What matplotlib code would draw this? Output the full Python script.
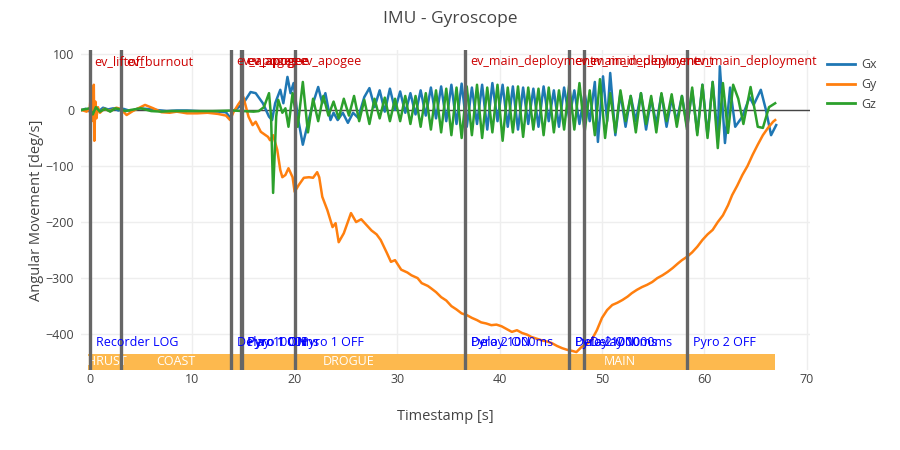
import matplotlib
matplotlib.use("Agg")
import matplotlib.pyplot as plt
from matplotlib.lines import Line2D
from matplotlib.patches import Rectangle

plt.rcParams['font.family'] = ['Open Sans', 'DejaVu Sans']

# ---------------- data ----------------
gx_t = [-0.8, -0.4, 0.0, 0.2, 0.4, 0.6, 0.9, 1.3, 1.8, 2.3, 2.8, 3.3, 4.0, 4.8, 5.5, 6.5, 7.5, 8.5,
        9.5, 10.5, 11.5, 12.5, 13.3, 13.7, 14.0, 14.4, 15.0, 15.7, 16.2, 16.9, 17.5, 17.8, 18.1, 18.6,
        18.9, 19.3, 19.6, 19.9, 20.3, 20.8, 21.3, 21.8, 22.3, 22.7, 23.0, 23.5, 23.8, 24.2, 24.7, 25.2,
        25.7, 26.2, 26.8, 27.3, 27.8, 28.3, 28.8, 29.3, 29.8, 30.3, 30.8, 31.3, 31.8, 32.3, 32.8, 33.3,
        33.8, 34.3, 34.8, 35.3, 35.8, 36.3, 36.8, 37.3, 37.8, 38.3, 38.8, 39.3, 39.8, 40.3, 40.8, 41.3,
        41.8, 42.3, 42.8, 43.3, 43.8, 44.3, 44.8, 45.3, 45.8, 46.3, 46.8, 47.3, 47.8, 48.3, 48.8, 49.3,
        49.6, 50.1, 50.5, 50.8, 51.3, 51.8, 52.3, 52.8, 53.3, 53.8, 54.3, 54.8, 55.3, 55.8, 56.3, 56.8,
        57.3, 57.8, 58.3, 58.8, 59.3, 59.8, 60.3, 60.8, 61.3, 61.5, 62.0, 62.5, 63.0, 63.7, 64.4, 64.8,
        65.5, 66.0, 66.5, 67.0]
gx_v = [0, 2, -3, 8, -10, 6, -2, 4, 1, 3, -1, 2, -2, 3, 2, 0, -2, -1,
        -1, -2, -3, -3, -4, -14, -2, 3, 12, 32, 30, 12, -12, -18, 12, 36,
        12, 59, 30, 48, -12, -62, -23, 12, 41, 12, 30, -18, -5, -18, -5, -23,
        -5, -14, 23, 39, 5, 35, -3, 38, 0, 33, -5, 30, -8, 35, -10, 40,
        -15, 42, -20, 45, -25, 47, -30, 40, -25, 45, -35, 48, -20, 45, -30, 42,
        -35, 40, -25, 38, -30, 42, -20, 35, -30, 40, -15, 35, -25, 30, -20, 50,
        -57, 60, -20, 66, -45, 30, -30, 25, -20, 30, -35, 20, -25, 28, -30, 20,
        -20, 25, -30, 35, -40, 45, -45, 50, -50, 78, -59, 40, -30, -12, 23, 9,
        36, 0, -45, -27]

gy_t = [-0.8, -0.3, 0.0, 0.1, 0.2, 0.3, 0.4, 0.45, 0.55, 0.65, 0.8, 1.0, 1.4, 2.0, 2.6, 3.0, 3.6,
        4.2, 5.4, 6.2, 7.0, 7.8, 8.5, 9.5, 10.5, 11.5, 12.5, 13.3, 13.7, 14.0, 14.5, 15.0, 15.5,
        15.9, 16.2, 16.7, 17.4, 17.6, 17.9, 18.3, 18.6, 18.8, 19.1, 19.4, 19.8, 20.0, 20.4, 20.9,
        21.4, 21.8, 22.2, 22.4, 22.7, 23.2, 23.7, 24.0, 24.3, 24.8, 25.5, 26.0, 26.5, 27.0, 27.5,
        28.0, 28.4, 29.0, 29.4, 29.8, 30.4, 31.0, 31.4, 32.0, 32.4, 33.0, 33.3, 33.8, 34.3, 34.8,
        35.3, 35.8, 36.3, 36.8, 37.3, 37.8, 38.2, 38.7, 39.2, 39.7, 40.2, 40.7, 41.2, 41.7, 42.2,
        42.7, 43.1, 43.6, 44.1, 44.6, 45.1, 45.6, 46.1, 46.6, 47.1, 47.5, 48.0, 48.5, 49.0, 49.5,
        50.0, 50.5, 51.0, 51.5, 52.0, 52.5, 52.9, 53.4, 53.9, 54.4, 54.9, 55.4, 55.9, 56.4, 56.9,
        57.4, 57.8, 58.3, 58.8, 59.3, 59.8, 60.3, 60.8, 61.3, 61.8, 62.3, 62.7, 63.2, 63.7, 64.2,
        64.7, 65.2, 65.7, 66.2, 66.7, 66.9]
gy_v = [0, -3, 2, 25, -20, 10, 45, -55, 15, -15, 5, -5, 2, -2, 4, 2, -9,
        -2, 9, 3, -4, -5, -3, -6, -6, -5, -7, -10, -18, -5, 10, 23, -12,
        -27, -21, -39, -48, -54, -45, -71, -107, -120, -116, -104, -120, -146, -134, -121,
        -120, -121, -111, -120, -155, -179, -209, -202, -236, -220, -184, -200, -195, -205, -215,
        -222, -232, -255, -271, -268, -285, -290, -295, -300, -309, -314, -318, -325, -334, -340,
        -350, -356, -363, -366, -371, -375, -379, -381, -384, -383, -386, -391, -396, -393, -398,
        -401, -405, -408, -411, -413, -416, -421, -425, -428, -430, -432, -423, -418, -410, -393,
        -371, -357, -348, -344, -339, -333, -327, -321, -316, -312, -307, -300, -295, -289, -282,
        -274, -268, -262, -254, -244, -232, -222, -214, -200, -188, -170, -152, -135, -116, -100,
        -80, -62, -45, -32, -21, -18]

gz_t = [-0.8, 0.0, 0.3, 0.6, 1.0, 1.5, 2.0, 2.5, 3.0, 3.5, 4.0, 5.0, 6.0, 7.0, 8.0, 10.0, 12.0,
        14.0, 15.0, 16.0, 16.5, 17.0, 17.5, 17.7, 17.9, 18.2, 18.4, 18.8, 19.1, 19.4, 19.8, 20.3,
        20.8, 21.3, 21.8, 22.3, 22.8, 23.3, 23.8, 24.3, 24.8, 25.3, 25.8, 26.3, 26.8, 27.3, 27.8,
        28.3, 28.8, 29.3, 29.8, 30.3, 30.8, 31.3, 31.8, 32.3, 32.8, 33.3, 33.8, 34.3, 34.8, 35.3,
        35.8, 36.3, 36.8, 37.3, 37.8, 38.3, 38.8, 39.3, 39.8, 40.3, 40.8, 41.3, 41.8, 42.3, 42.8,
        43.3, 43.8, 44.3, 44.8, 45.3, 45.8, 46.3, 46.8, 47.3, 47.8, 48.3, 48.8, 49.3, 49.8, 50.3,
        50.8, 51.3, 51.8, 52.3, 52.8, 53.3, 53.8, 54.3, 54.8, 55.3, 55.8, 56.3, 56.8, 57.3, 57.8,
        58.3, 58.8, 59.3, 59.8, 60.3, 60.8, 61.3, 61.8, 62.3, 62.8, 63.3, 63.8, 64.5, 65.2, 65.7,
        66.3, 66.9]
gz_v = [0, 3, -8, 5, -3, 2, -3, 3, 1, -2, 0, 3, -2, -3, -2, -2, -2,
        -1, -2, -3, -2, 5, 30, -12, -148, -12, 18, -5, 3, -30, 30, -30,
        50, -40, 20, -20, 25, -10, 15, -15, 20, -10, 25, -20, 18, -25, 20,
        -15, 22, -20, 20, -20, 25, -25, 25, -30, 30, -35, 35, -40, 38, -45,
        40, -50, 42, -45, 45, -50, 40, -40, 45, -55, 40, -40, 42, -48, 40,
        -35, 38, -45, 40, -40, 35, -35, 45, -35, 48, -40, 35, -45, 55, -50,
        30, -40, 35, -20, 25, -40, 30, -25, 25, -40, 30, -20, 28, -30, 25,
        -35, 40, -45, 45, -50, 50, -68, 48, -41, 45, 20, -25, 41, -30, -32,
        5, 12]

event_t = [0.0, 3.04, 13.82, 14.8, 14.9, 20.0, 36.67, 46.76, 48.24, 58.33]
event_top = ["ev_liftoff", "ev_burnout", "ev_apogee", "ev_apogee", "ev_apogee", "ev_apogee",
             "ev_main_deployment", "ev_main_deployment", "ev_main_deployment", "ev_main_deployment"]
cmd_t = [0.0, 13.82, 14.8, 14.9, 20.0, 36.67, 36.67, 46.76, 46.76, 48.24, 58.33]
cmd_label = ["Recorder LOG", "Delay 1000ms", "Pyro 1 ON", "Pyro 1 ON", "Pyro 1 OFF",
             "Delay 1000ms", "Pyro 2 ON", "Pyro 2 ON", "Delay 1000ms", "Delay 1000ms", "Pyro 2 OFF"]
phase_names = ["THRUST", "COAST", "DROGUE", "MAIN"]
phase_start = [-0.2, 3.04, 13.82, 36.67]
phase_end = [3.04, 13.82, 36.67, 66.9]

# ---------------- figure ----------------
fig = plt.figure(figsize=(9, 4.5), dpi=100)
ax = fig.add_axes([81 / 900, 80 / 450, 729 / 900, 320 / 450])
ax.set_xlim(-0.85, 70.3)
ax.set_ylim(-464, 107)

for s in ax.spines.values():
    s.set_visible(False)
ax.set_xticks([0, 10, 20, 30, 40, 50, 60, 70])
ax.set_yticks([-400, -300, -200, -100, 0, 100])
ax.grid(True, color='#eeeeee', linewidth=1)
ax.set_axisbelow(True)
ax.tick_params(length=0, labelsize=9, colors='#444444')
ax.tick_params(axis='x', pad=2)
ax.tick_params(axis='y', pad=5)
ax.axhline(0, color='#444444', linewidth=1, zorder=1)

cx, cy, cz = '#1f77b4', '#ff7f0e', '#2ca02c'
ax.plot(gx_t, gx_v, color=cx, lw=1.8, zorder=3)
ax.plot(gy_t, gy_v, color=cy, lw=1.8, zorder=3)
ax.plot(gz_t, gz_v, color=cz, lw=1.8, zorder=3)

# phase band
band_lo, band_hi = -464, -435
for n, a, b in zip(phase_names, phase_start, phase_end):
    r = Rectangle((a, band_lo), b - a, band_hi - band_lo, facecolor='#fdb94e', edgecolor='none', zorder=4)
    ax.add_patch(r)
    t = ax.text((a + b) / 2, (band_lo + band_hi) / 2, n, color='white', fontsize=9,
                ha='center', va='center', zorder=5)
    t.set_clip_path(r)

# event lines
for t in event_t:
    ax.axvline(t, color='#666666', lw=2.4, zorder=6)

for t, lab in zip(event_t, event_top):
    ax.annotate(lab, (t, 1), xycoords=('data', 'axes fraction'), xytext=(5, -12),
                textcoords='offset pixels', color='#cc0000', fontsize=9, ha='left', va='center', zorder=7)
for t, lab in zip(cmd_t, cmd_label):
    ax.annotate(lab, (t, -415), xycoords='data', xytext=(6, 0),
                textcoords='offset pixels', color='#0000ff', fontsize=9, ha='left', va='center', zorder=7)

ax.set_xlabel('Timestamp [s]', fontsize=10.5, color='#444444', va='center')
ax.xaxis.set_label_coords(0.5, (33 - 80) / 320)
ax.set_ylabel('Angular Movement [deg/s]', fontsize=10.5, color='#444444', va='center')
ax.yaxis.set_label_coords((37 - 81) / 729, 0.5)
fig.text(0.5, 1 - 19 / 450, 'IMU - Gyroscope', ha='center', va='center', fontsize=12.5, color='#444444')

handles = [Line2D([], [], color=c, lw=2) for c in (cx, cy, cz)]
fig.legend(handles, ['Gx', 'Gy', 'Gz'], loc='upper left', bbox_to_anchor=(822 / 900, 1 - 53 / 450),
           frameon=False, fontsize=9, handlelength=2.2, labelspacing=0.55, labelcolor='#444444',
           borderaxespad=0, handletextpad=0.5)

fig.savefig('out.png', dpi=100)
